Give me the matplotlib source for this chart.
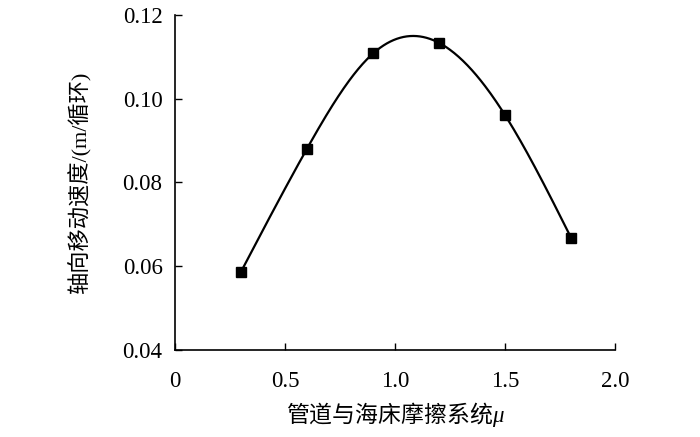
import numpy as np
import matplotlib
matplotlib.use("Agg")
import matplotlib.pyplot as plt

plt.rcParams['font.family'] = ['Liberation Serif', 'Noto Sans CJK SC']
plt.rcParams['mathtext.fontset'] = 'custom'
plt.rcParams['mathtext.rm'] = 'Noto Sans CJK SC'
plt.rcParams['mathtext.it'] = 'Liberation Serif:italic'
plt.rcParams['xtick.direction'] = 'in'
plt.rcParams['ytick.direction'] = 'in'

mu = [0.3, 0.6, 0.9, 1.2, 1.5, 1.8]
speed = [0.0587, 0.0881, 0.1108, 0.1133, 0.0960, 0.0667]
xticks = [0, 0.5, 1.0, 1.5, 2.0]
xtick_labels = ['0', '0.5', '1.0', '1.5', '2.0']
yticks = [0.04, 0.06, 0.08, 0.10, 0.12]


def natural_spline(x, y, xs):
    # natural cubic spline for the smoothed line
    x = np.asarray(x, float); y = np.asarray(y, float)
    n = len(x)
    h = np.diff(x)
    A = np.zeros((n, n)); b = np.zeros(n)
    A[0, 0] = A[-1, -1] = 1
    for i in range(1, n - 1):
        A[i, i - 1] = h[i - 1]
        A[i, i] = 2 * (h[i - 1] + h[i])
        A[i, i + 1] = h[i]
        b[i] = 3 * ((y[i + 1] - y[i]) / h[i] - (y[i] - y[i - 1]) / h[i - 1])
    c = np.linalg.solve(A, b)
    out = np.empty_like(xs)
    for k, xv in enumerate(xs):
        i = min(max(np.searchsorted(x, xv) - 1, 0), n - 2)
        bi = (y[i + 1] - y[i]) / h[i] - h[i] * (2 * c[i] + c[i + 1]) / 3
        di = (c[i + 1] - c[i]) / (3 * h[i])
        t = xv - x[i]
        out[k] = y[i] + bi * t + c[i] * t ** 2 + di * t ** 3
    return out


fig = plt.figure(figsize=(7, 4.37), dpi=100)
ax = fig.add_axes([0.25, 0.199, 0.629, 0.767])

xs = np.linspace(mu[0], mu[-1], 300)
ax.plot(xs, natural_spline(mu, speed, xs), color='black', lw=1.6)
ax.plot(mu, speed, 's', color='black', ms=6.5)

ax.set_xlim(0, 2.0)
ax.set_ylim(0.04, 0.12)
ax.set_xticks(xticks)
ax.set_xticklabels(xtick_labels)
ax.set_yticks(yticks)
ax.set_yticklabels(['%.2f' % v for v in yticks])
ax.tick_params(direction='in', length=5, width=1, labelsize=16.5)
ax.tick_params(axis='x', pad=15)
ax.tick_params(axis='y', pad=9)
ax.spines['top'].set_visible(False)
ax.spines['right'].set_visible(False)
for s in ['left', 'bottom']:
    ax.spines[s].set_linewidth(1.2)

ax.set_xlabel('$\\mathrm{管道与海床摩擦系统}\\mathit{\\mu}$', fontsize=16.5, labelpad=6)
ax.set_ylabel('轴向移动速度/(m/循环)', fontsize=16, labelpad=22)

fig.savefig('out.png', dpi=100)
